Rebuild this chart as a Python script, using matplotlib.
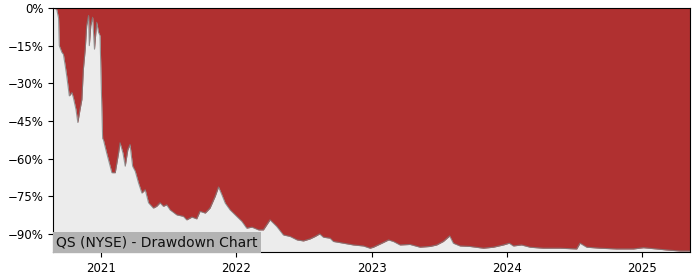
import matplotlib
matplotlib.use("Agg")
import matplotlib.pyplot as plt
import pandas as pd

dates = ["2020-08-25","2020-09-03","2020-09-08","2020-09-10","2020-09-17","2020-09-21","2020-09-26","2020-09-30",
 "2020-10-07","2020-10-14","2020-10-18","2020-10-25","2020-10-30","2020-11-05","2020-11-10","2020-11-14",
 "2020-11-19","2020-11-23","2020-11-28","2020-11-30","2020-12-04","2020-12-09","2020-12-14","2020-12-20",
 "2020-12-25","2020-12-29","2021-01-02","2021-01-05","2021-01-07","2021-01-16","2021-01-30","2021-02-08",
 "2021-02-17","2021-02-21","2021-03-01","2021-03-07","2021-03-14","2021-03-20","2021-03-27","2021-04-03",
 "2021-04-12","2021-04-21","2021-04-30","2021-05-09","2021-05-22","2021-05-31","2021-06-09","2021-06-18",
 "2021-06-27","2021-07-06","2021-07-24","2021-08-11","2021-08-20","2021-09-03","2021-09-16","2021-09-25",
 "2021-10-09","2021-10-22","2021-11-05","2021-11-14","2021-11-23","2021-12-02","2021-12-15","2022-01-02",
 "2022-01-16","2022-01-29","2022-02-12","2022-03-02","2022-03-15","2022-04-02","2022-04-20","2022-05-08",
 "2022-05-26","2022-06-14","2022-07-01","2022-07-19","2022-08-02","2022-08-14","2022-08-24","2022-09-11",
 "2022-09-20","2022-10-17","2022-11-13","2022-12-10","2022-12-28","2023-01-06","2023-01-29","2023-02-16",
 "2023-03-01","2023-03-19","2023-04-15","2023-05-12","2023-06-08","2023-06-26","2023-07-14","2023-07-31",
 "2023-08-10","2023-08-28","2023-09-24","2023-10-30","2023-11-26","2023-12-23","2024-01-08","2024-01-19",
 "2024-02-10","2024-03-04","2024-04-08","2024-05-24","2024-07-08","2024-07-17","2024-08-04","2024-09-09",
 "2024-10-24","2024-12-08","2025-01-04","2025-02-09","2025-03-08","2025-04-13","2025-05-10"]
drawdown = [0,-0.5,-4,-15,-17.7,-18.4,-23,-27,
 -35,-33.7,-35.7,-40.4,-45.6,-40.4,-36.4,-24.4,
 -16.4,-7,-3,-15,-7,-3.7,-16.4,-5.7,
 -9.7,-11,-35,-52,-52.4,-57.8,-65.6,-65.6,
 -57.8,-53.7,-57.8,-63,-56.5,-54.4,-63,-65,
 -69.7,-73.7,-72.4,-77.6,-79.7,-79,-77.6,-79,
 -78.4,-80.4,-82.4,-83,-84.4,-83.3,-84,-81,
 -81.7,-79.7,-75,-71.3,-74.4,-77.7,-80.4,-83,
 -85,-87.7,-87.3,-88.4,-88.4,-84.4,-87,-90.4,
 -91,-92.4,-92.8,-92,-91,-90,-91.3,-91.7,
 -93,-93.7,-94.4,-94.8,-95.7,-95.3,-93.7,-92.4,
 -93,-94.4,-94.2,-95.3,-95,-94.4,-93,-90.8,
 -93.7,-94.8,-95,-95.7,-95.3,-94.4,-93.7,-94.8,
 -94.4,-95.3,-95.7,-95.7,-96,-93.7,-95.3,-95.7,
 -96,-96,-95.5,-96,-96.4,-96.8,-96.8]
ytick_vals = [0, -15, -30, -45, -60, -75, -90]
xtick_years = ["2021", "2022", "2023", "2024", "2025"]
label_text = "QS (NYSE) - Drawdown Chart"

x = pd.to_datetime(dates)
fig = plt.figure(figsize=(7, 2.8), dpi=100)
ax = fig.add_axes([53/700, 1-252/280, (690-53)/700, (252-8)/280])
ax.set_facecolor("#ececec")
ax.fill_between(x, drawdown, 0, color="#b03030", linewidth=0)
ax.plot(x, drawdown, color="#808080", linewidth=0.8, alpha=0.8)
ax.set_xlim(pd.Timestamp("2020-08-24"), pd.Timestamp("2025-05-10"))
ax.set_ylim(-97.2, 0)
ax.set_yticks(ytick_vals)
ax.set_yticklabels([f"{v}%".replace("-", "\u2212") for v in ytick_vals], fontsize=8.5)
ax.set_xticks([pd.Timestamp(y + "-01-01") for y in xtick_years])
ax.set_xticklabels(xtick_years, fontsize=8.5)
ax.text(0.005, 0.012, label_text, transform=ax.transAxes, fontsize=10, color="#111111",
        va="bottom", ha="left",
        bbox=dict(facecolor="#b3b3b3", edgecolor="none", pad=2.5))
fig.savefig("out.png", dpi=100)
